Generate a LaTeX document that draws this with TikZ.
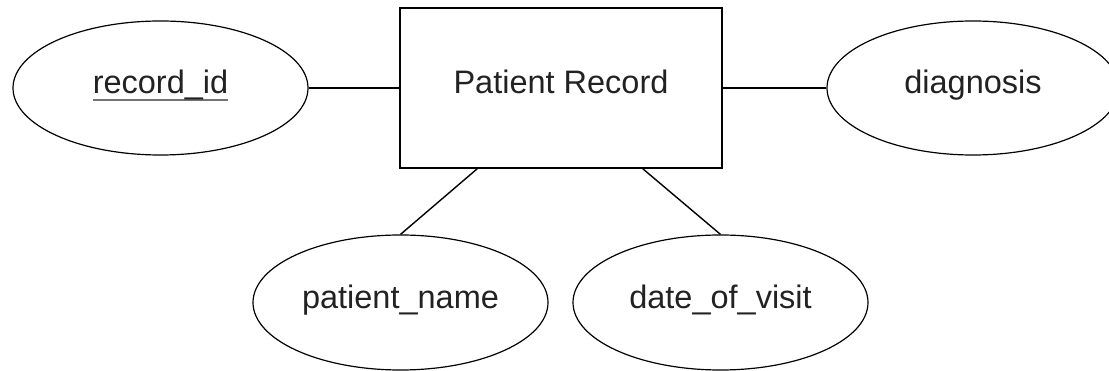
\documentclass[tikz,border=0pt]{standalone}
\usepackage{fontspec}
\setmainfont{Liberation Sans}
\usetikzlibrary{shapes.geometric}
\definecolor{txt}{HTML}{222222}
\newcommand\grayul[1]{\setbox0\hbox{#1}\leavevmode\rlap{\color{black!55}\rule[-7.5pt]{\wd0}{2.5pt}}\box0}
\begin{document}
\begin{tikzpicture}[x=1pt,y=-1pt,
  every node/.style={font=\fontsize{32.5}{38}\selectfont, text=txt, text height=20pt, text depth=8pt, inner sep=0pt},
  entitybox/.style={draw, line width=1.4pt, rectangle, minimum width=322pt, minimum height=160pt},
  attr/.style={draw, line width=1.2pt, ellipse, minimum width=295pt, minimum height=134pt},
  conn/.style={line width=1.4pt}]
\useasboundingbox (0,0) rectangle (1109,371);
\node[entitybox] (rec) at (561,88) {Patient Record};
\node[attr] (rid) at (160.5,88) {\grayul{record\_id}};
\node[attr, minimum width=292pt] (diag) at (973,88) {diagnosis};
\node[attr, minimum height=135pt] (pn) at (400.5,302.5) {patient\_name};
\node[attr, minimum height=135pt] (dov) at (720.5,302.5) {date\_of\_visit};
\draw[conn] (rid.east) -- (rec.west);
\draw[conn] (rec.east) -- (diag.west);
\draw[conn] ([xshift=78pt]rec.south west) -- (pn.north);
\draw[conn] ([xshift=-80pt]rec.south east) -- (dov.north);
\end{tikzpicture}
\end{document}
